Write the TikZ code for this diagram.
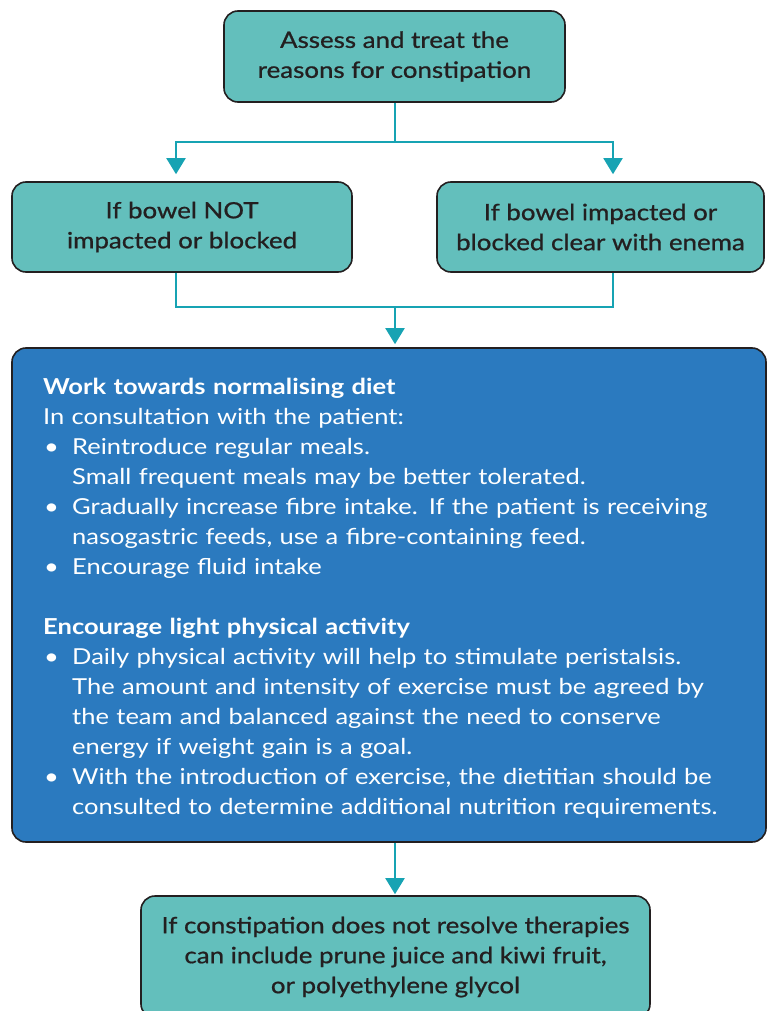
\documentclass[tikz,border=0pt]{standalone}
\usepackage{fontspec}
\setmainfont{Lato}[FakeStretch=1.16]
\newfontfamily\medfont[FakeBold=0.8, FakeStretch=1.15]{Lato}
\usetikzlibrary{arrows.meta,calc}
\definecolor{tealfill}{HTML}{63BFBC}
\definecolor{connteal}{HTML}{17A3B3}
\definecolor{bluefill}{HTML}{2B7ABF}
\definecolor{ink}{HTML}{231F20}
\newcommand\bul{\makebox[29pt][l]{\hspace{1pt}\textbullet}}
\newcommand\ind{\hspace*{29pt}}
\begin{document}
\begin{tikzpicture}[x=1pt,y=-1pt,
  box/.style={draw=ink, line width=1.6pt, rounded corners=14pt, fill=tealfill, inner sep=0pt,
    font=\medfont\fontsize{22.5}{30}\selectfont, text=ink, align=center},
  bigbox/.style={draw=ink, line width=1.6pt, rounded corners=14pt, fill=bluefill, inner sep=0pt},
  conn/.style={draw=connteal, line width=2pt},
  arr/.style={conn, -{Triangle[width=19pt,length=16pt]}},
  bodytext/.style={font=\fontsize{22}{30}\selectfont, text=white, align=left, inner sep=0pt, text width=715pt}
]
\clip (0,0) rectangle (767,1011);

\node[box, minimum width=341pt, minimum height=91pt] (top) at (394.5,56.5)
  {Assess and treat the\\reasons for constipation};
\node[box, minimum width=340pt, minimum height=90pt] (left) at (182,227)
  {If bowel NOT\\impacted or blocked};
\node[box, minimum width=327pt, minimum height=90pt] (right) at (600.5,227)
  {If bowel impacted or\\blocked clear with enema};
\node[bigbox, minimum width=754pt, minimum height=494pt] (big) at (389,595) {};
\node[box, minimum width=509pt, minimum height=122pt] (bottom) at (395.5,957)
  {If constipation does not resolve therapies\\can include prune juice and kiwi fruit,\\or polyethylene glycol};

\node[bodytext, anchor=north west] (bigtext) at (43,378) {%
\textbf{Work towards normalising diet}\\
In consultation with the patient:\\
\bul Reintroduce regular meals.\\
\ind Small frequent meals may be better tolerated.\\
\bul Gradually increase fibre intake. If the patient is receiving\\
\ind nasogastric feeds, use a fibre-containing feed.\\
\bul Encourage fluid intake\\[30pt]
\textbf{Encourage light physical activity}\\
\bul Daily physical activity will help to stimulate peristalsis.\\
\ind The amount and intensity of exercise must be agreed by\\
\ind the team and balanced against the need to conserve\\
\ind energy if weight gain is a goal.\\
\bul With the introduction of exercise, the dietitian should be\\
\ind consulted to determine additional nutrition requirements.};

% connectors
\coordinate (j1) at ($(top.south)+(0,39)$);
\draw[conn] (top.south) -- (j1);
\draw[arr, shorten >=7pt] (j1) -| ($(left.north)+(-6,0)$);
\draw[arr, shorten >=7pt] (j1) -| ($(right.north)+(12.5,0)$);
\coordinate (j2) at (395,306);
\draw[conn] ($(left.south)+(-6,0)$) -- ++(0,34) -| ($(right.south)+(12.5,0)$);
\draw[arr, shorten >=3pt] (j2) -- (big.north -| j2);
\draw[arr, shorten >=1pt] (big.south -| j2) -- (bottom.north -| j2);
\end{tikzpicture}
\end{document}
